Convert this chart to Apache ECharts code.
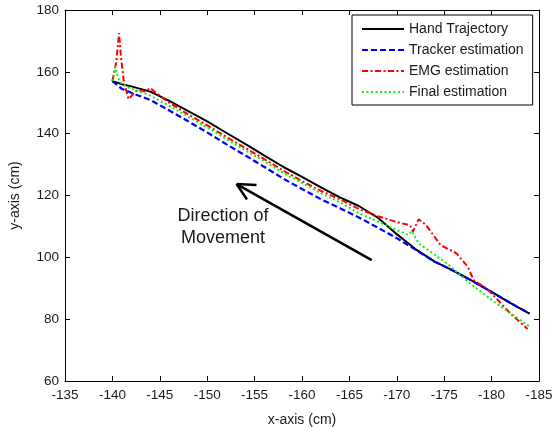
<!DOCTYPE html>
<html>
<head>
<meta charset="utf-8">
<script src="https://cdn.jsdelivr.net/npm/echarts@6/dist/echarts.min.js"></script>
<style>
  html, body { margin: 0; padding: 0; background: #fff; }
  #chart { width: 559px; height: 427px; }
</style>
</head>
<body>
<div id="chart"></div>
<script>
// series names, in legend order
const seriesNames = ['Hand Trajectory', 'Tracker estimation', 'EMG estimation', 'Final estimation']

// [x, y] in cm
const handPts = [
  [-140, 157.0], [-140.5, 156.5], [-141, 156.0], [-142, 155.3], [-144, 153.6], [-146, 150.6],
  [-148, 147.3], [-150, 144.0], [-152, 140.3], [-154, 136.7], [-156, 133.0], [-158, 129.3],
  [-160, 126.0], [-162, 122.6], [-164, 119.4], [-166, 116.6], [-168, 112.8], [-170, 107.5],
  [-172, 102.6], [-174, 98.6], [-176, 95.6], [-178, 92.3], [-180, 88.8], [-182, 85.2], [-184, 81.8]
]
const trackerPts = [
  [-140, 157.0], [-141, 154.5], [-142, 153.2], [-144, 150.9], [-146, 147.5], [-148, 144.0],
  [-150, 140.4], [-152, 136.6], [-154, 133.0], [-156, 129.3], [-158, 125.5], [-160, 122.1],
  [-162, 118.8], [-164, 115.9], [-166, 112.9], [-168, 109.6], [-170, 106.2], [-172, 102.4],
  [-174, 98.6], [-176, 95.6], [-178, 92.3], [-180, 88.8], [-182, 85.2], [-184, 81.8]
]
const emgPts = [
  [-140, 157.0], [-140.4, 163.0], [-140.7, 172.5], [-140.9, 165.0], [-141.2, 157.0], [-141.7, 151.2],
  [-142.6, 154.1], [-143.4, 153.6], [-144, 154.7], [-144.7, 153.0], [-146, 150.0], [-148, 146.2],
  [-150, 142.7], [-152, 139.0], [-154, 135.4], [-156, 131.8], [-158, 128.1], [-160, 124.7],
  [-162, 121.5], [-164, 118.8], [-166, 115.6], [-168, 113.3], [-170, 111.4], [-171.4, 110.4],
  [-171.7, 108.3], [-172.3, 112.3], [-173.1, 110.4], [-174.6, 104.0], [-176.3, 101.3], [-177.5, 96.9],
  [-178.1, 92.6], [-179.5, 89.9], [-182, 81.8], [-183.8, 76.8]
]
const finalPts = [
  [-140, 157.0], [-140.3, 161.7], [-140.6, 158.0], [-141, 156.0], [-142, 154.5], [-143, 153.5],
  [-144, 152.3], [-146, 149.0], [-148, 145.5], [-150, 142.0], [-152, 138.3], [-154, 134.7],
  [-156, 131.1], [-158, 127.4], [-160, 124.0], [-162, 120.7], [-164, 117.8], [-166, 114.3],
  [-168, 111.6], [-170, 108.8], [-171.2, 107.3], [-171.6, 108.5], [-172.3, 104.5], [-174, 100.9],
  [-175.3, 98.0], [-177.7, 91.6], [-180.5, 85.1], [-184.05, 77.5]
]

// "Direction of Movement" arrow, in data coords: shaft tail, tip, two arm ends
const arrowTail = [-167.35, 99.1]
const arrowTip = [-153.1, 123.7]
const arrowArmA = [-155.2, 123.4]
const arrowArmB = [-154.2, 118.7]

const FONT = 'Liberation Sans, Arial, sans-serif'
const TXT = '#1a1a1a'

const lineStyles = [
  { color: '#000000', width: 2, type: 'solid' },
  { color: '#0000ff', width: 2.2, type: [6, 3] },
  { color: '#ff0000', width: 2, type: [6, 2.5, 2, 2.5] },
  { color: '#11ee11', width: 2, type: [2, 2.5] }
]
const seriesData = [handPts, trackerPts, emgPts, finalPts]

const baseX = {
  type: 'value',
  inverse: true,
  min: -185,
  max: -135,
  interval: 5,
  axisLine: { lineStyle: { color: '#000', width: 1 } },
  axisTick: { inside: true, length: 5, lineStyle: { color: '#000' } },
  splitLine: { show: false }
}
const baseY = {
  type: 'value',
  min: 60,
  max: 180,
  interval: 20,
  axisLine: { show: true, lineStyle: { color: '#000', width: 1 } },
  axisTick: { show: true, inside: true, length: 5, lineStyle: { color: '#000' } },
  splitLine: { show: false }
}

const chart = echarts.init(document.getElementById('chart'), null, { renderer: 'canvas' })

chart.setOption({
  animation: false,
  backgroundColor: '#fff',
  grid: { left: 65, top: 10, width: 474, height: 371, outerBoundsMode: 'none' },
  legend: {
    data: seriesNames,
    orient: 'vertical',
    left: 352,
    top: 15,
    padding: [7, 9, 6, 9],
    itemWidth: 42,
    itemHeight: 14,
    itemGap: 7,
    backgroundColor: '#fff',
    borderColor: '#000',
    borderWidth: 1,
    borderRadius: 0,
    // line series legend icons carry a marker; keep only the line sample
    itemStyle: { opacity: 0 },
    textStyle: { fontFamily: FONT, fontSize: 14, color: TXT }
  },
  xAxis: [
    {
      ...baseX,
      position: 'bottom',
      axisLabel: { fontFamily: FONT, fontSize: 13.5, color: TXT, margin: 7 },
      name: 'x-axis (cm)',
      nameLocation: 'middle',
      nameGap: 32,
      nameTextStyle: { fontFamily: FONT, fontSize: 14, color: TXT }
    },
    { ...baseX, position: 'top', axisLabel: { show: false } }
  ],
  yAxis: [
    {
      ...baseY,
      position: 'left',
      axisLabel: { fontFamily: FONT, fontSize: 13.5, color: TXT, margin: 6 },
      name: 'y-axis (cm)',
      nameLocation: 'middle',
      nameGap: 43,
      nameRotate: 90,
      nameTextStyle: { fontFamily: FONT, fontSize: 14, color: TXT }
    },
    { ...baseY, position: 'right', axisLabel: { show: false } }
  ],
  graphic: [{
    type: 'text',
    x: 223,
    y: 227,
    style: {
      text: 'Direction of\nMovement',
      font: '18px ' + FONT,
      fill: TXT,
      textAlign: 'center',
      textVerticalAlign: 'middle',
      lineHeight: 22
    }
  }],
  series: seriesNames.map((name, i) => ({
    name,
    type: 'line',
    data: seriesData[i],
    showSymbol: false,
    symbol: 'none',
    lineStyle: lineStyles[i],
    itemStyle: { color: lineStyles[i].color },
    silent: true,
    markLine: i === 0 ? {
      silent: true,
      symbol: 'none',
      label: { show: false },
      lineStyle: { color: '#000', width: 2.5, type: 'solid' },
      data: [
        [{ coord: arrowTail }, { coord: arrowTip }],
        [{ coord: arrowTip }, { coord: arrowArmA }],
        [{ coord: arrowTip }, { coord: arrowArmB }]
      ]
    } : undefined
  }))
})
</script>
</body>
</html>
